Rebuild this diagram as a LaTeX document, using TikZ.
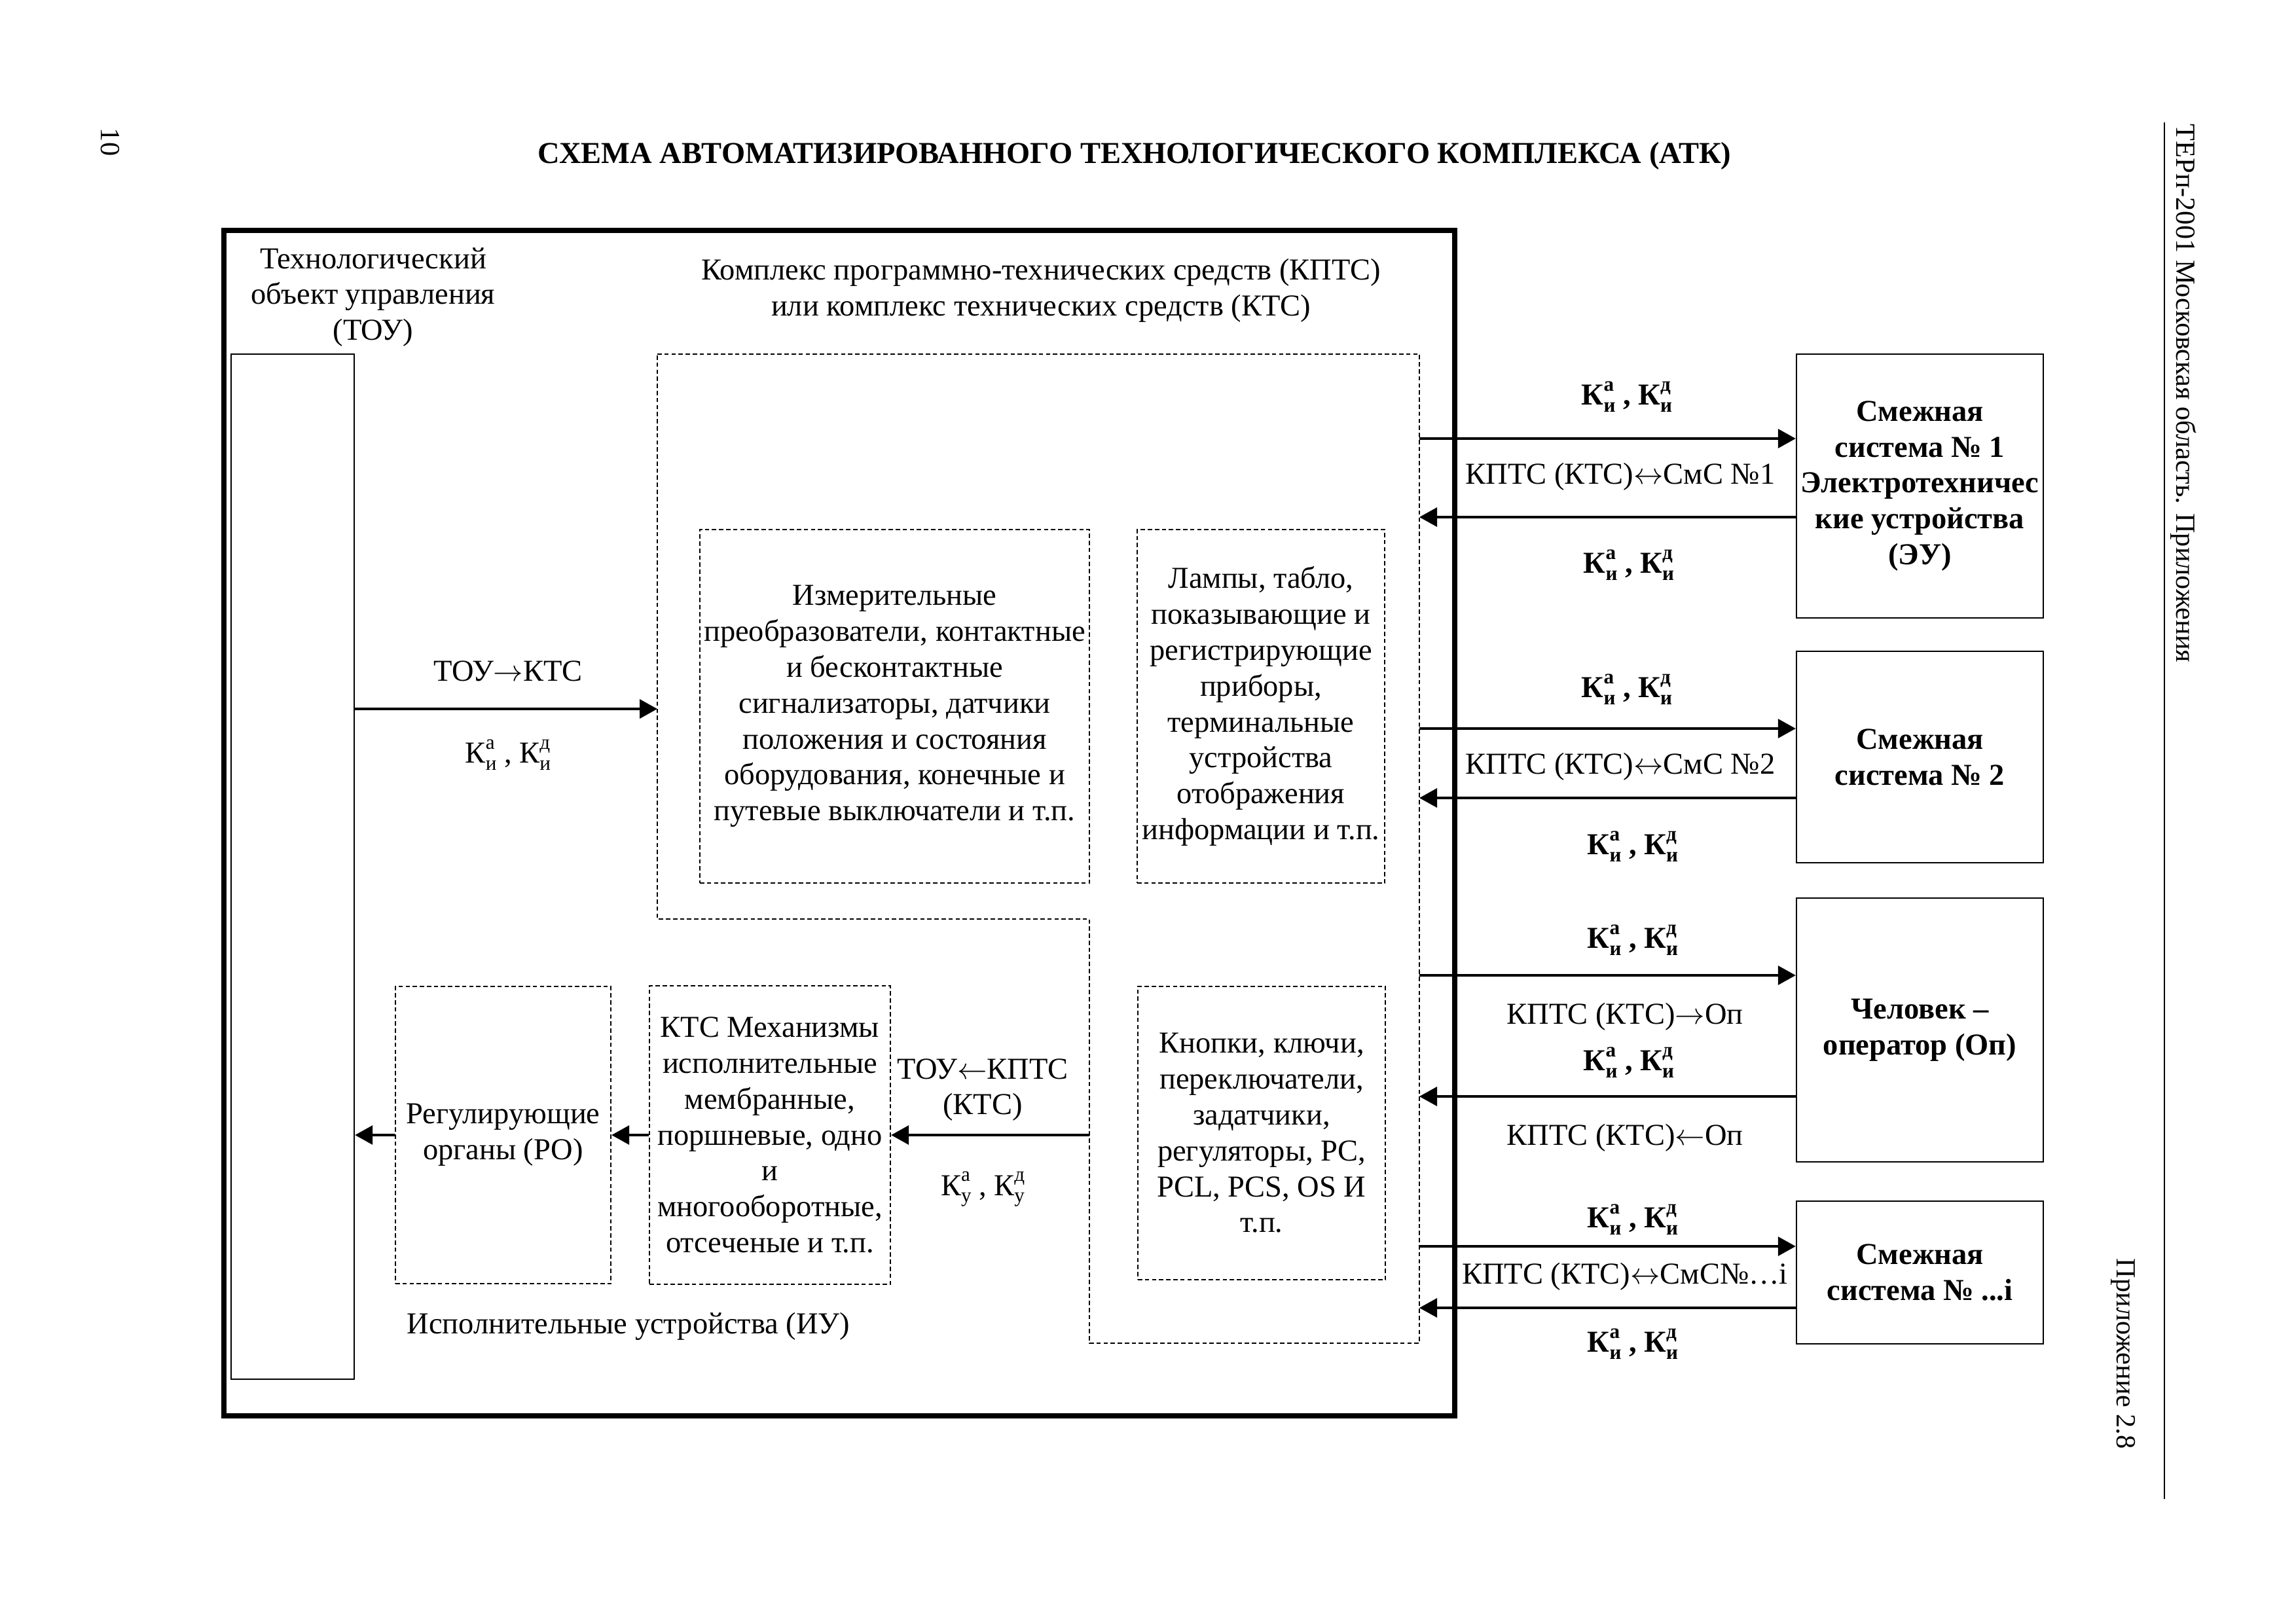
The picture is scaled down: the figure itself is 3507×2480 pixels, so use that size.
\documentclass[tikz,border=0pt]{standalone}
\usepackage{fontspec}
\setmainfont{Liberation Serif}
\usetikzlibrary{arrows.meta}

\newcommand{\pxu}{0.08469mm}
\newcommand{\smallidx}{\fontsize{7.5}{8}\selectfont}
\newcommand{\Kx}[2]{К\rlap{\raisebox{1.0ex}{\smallidx #1}}\raisebox{-0.5ex}{\smallidx #2}}

\tikzset{
  frame/.style={draw, line width=2pt},
  dline/.style={draw, dash pattern=on 1.6pt off 1pt, line width=0.55pt},
  dbox/.style={dline, align=center, inner sep=1pt},
  sbox/.style={draw, line width=0.6pt, align=center, inner xsep=0.5pt, font=\bfseries},
  wh/.style 2 args={minimum width=#1*\pxu, minimum height=#2*\pxu},
  arr/.style={line width=0.8pt, -{Triangle[length=6.5pt,width=7pt]}},
  lbl/.style={align=center, inner sep=0pt},
  side/.style={lbl, rotate=-90, font=\fontsize{10.2}{12}\selectfont},
}

\begin{document}
\fontsize{11.2}{13.2}\selectfont
\begin{tikzpicture}[x=0.08469mm, y=-0.08469mm]
    \useasboundingbox (0,0) rectangle (3507,2480);
    % page furniture
    \node[lbl, font=\bfseries] (title) at (1733,238) {СХЕМА АВТОМАТИЗИРОВАННОГО ТЕХНОЛОГИЧЕСКОГО КОМПЛЕКСА (АТК)};
    \node[side] (pagenum) at (168,217) {10};
    \node[side] (header) at (3335,601) {ТЕРп-2001 Московская область. Приложения};
    \node[side] (appx) at (3243,2068) {Приложение 2.8};
    \coordinate (rtop) at (3306,187);
    \coordinate (rbot) at (3306,2290);
    \draw[line width=0.6pt] (rtop) -- (rbot);

    % outer frame and the TOU column
    \draw[frame] (342,352) rectangle (2222,2163);
    \node[draw, line width=0.6pt, wh={188}{1566}] (tou) at (447,1324) {};
    \node[lbl] (toulbl) at (570,454) {Технологический\\объект управления\\(ТОУ)};

    % KPTS area
    \node[lbl] (kptslbl) at (1590,444) {Комплекс программно-технических средств (КПТС)\\или комплекс технических средств (КТС)};
    \draw[dline] (1004,541) -- (2168,541) -- (2168,2052) -- (1664,2052) -- (1664,1404) -- (1004,1404) -- cycle;
    \node[dbox, wh={595}{540}] (izm) at (1366.5,1079) {Измерительные\\преобразователи, контактные\\и бесконтактные\\сигнализаторы, датчики\\положения и состояния\\оборудования, конечные и\\путевые выключатели и т.п.};
    \node[dbox, wh={378}{540}] (lamp) at (1926,1079) {Лампы, табло,\\показывающие и\\регистрирующие\\приборы,\\терминальные\\устройства\\отображения\\информации и т.п.};
    \node[dbox, wh={378}{448}] (knop) at (1927,1731) {Кнопки, ключи,\\переключатели,\\задатчики,\\регуляторы, PC,\\PCL, PCS, OS И\\т.п.};

    % actuators
    \node[dbox, wh={368}{456}] (mech) at (1176,1734) {КТС Механизмы\\исполнительные\\мембранные,\\поршневые, одно\\и\\многооборотные,\\отсеченые и т.п.};
    \node[dbox, wh={329}{454}] (ro) at (768.5,1734) {Регулирующие\\органы (РО)};
    \node[lbl] (iulbl) at (960,2026) {Исполнительные устройства (ИУ)};

    % adjacent systems
    \node[sbox, wh={377}{403}] (sms1) at (2932.5,742.5) {Смежная\\система № 1\\Электротехничес\\кие устройства\\(ЭУ)};
    \node[sbox, wh={377}{323}] (sms2) at (2932.5,1156.5) {Смежная\\система № 2};
    \node[sbox, wh={377}{403}] (oper) at (2932.5,1573.5) {Человек –\\оператор (Оп)};
    \node[sbox, wh={377}{218}] (smsi) at (2932.5,1944) {Смежная\\система № ...i};

    % connectors on the left
    \coordinate (kin) at (1004,1083);
    \coordinate (kout) at (1664,1734);
    \draw[arr] (tou.east |- kin) -- (kin);
    \node[lbl] (l1) at (776,1025) {ТОУ$\rightarrow$КТС};
    \node[lbl] (l2) at (776,1153) {\Kx{а}{и} , \Kx{д}{и}};
    \draw[arr] (kout) -- (mech.east);
    \node[lbl] (l3) at (1501,1665) {ТОУ$\leftarrow$КПТС\\(КТС)};
    \node[lbl] (l4) at (1501,1817) {\Kx{а}{у} , \Kx{д}{у}};
    \draw[arr] (mech.west) -- (ro.east);
    \draw[arr] (ro.west) -- (tou.east |- ro.west);

    % connectors on the right
    \coordinate (o1) at (2168,670);
    \coordinate (i1) at (2168,790);
    \coordinate (o2) at (2168,1113);
    \coordinate (i2) at (2168,1219);
    \coordinate (o3) at (2168,1490);
    \coordinate (i3) at (2168,1675);
    \coordinate (o4) at (2168,1904);
    \coordinate (i4) at (2168,1998);
    \draw[arr] (o1) -- (sms1.west |- o1);
    \draw[arr] (sms1.west |- i1) -- (i1);
    \draw[arr] (o2) -- (sms2.west |- o2);
    \draw[arr] (sms2.west |- i2) -- (i2);
    \draw[arr] (o3) -- (oper.west |- o3);
    \draw[arr] (oper.west |- i3) -- (i3);
    \draw[arr] (o4) -- (smsi.west |- o4);
    \draw[arr] (smsi.west |- i4) -- (i4);

    \node[lbl, font=\bfseries] (r1a) at (2485,606) {\Kx{а}{и} , \Kx{д}{и}};
    \node[lbl] (r1b) at (2475,728) {КПТС (КТС)$\leftrightarrow$СмС №1};
    \node[lbl, font=\bfseries] (r1c) at (2488,863) {\Kx{а}{и} , \Kx{д}{и}};
    \node[lbl, font=\bfseries] (r2a) at (2485,1053) {\Kx{а}{и} , \Kx{д}{и}};
    \node[lbl] (r2b) at (2475,1171) {КПТС (КТС)$\leftrightarrow$СмС №2};
    \node[lbl, font=\bfseries] (r2c) at (2494,1293) {\Kx{а}{и} , \Kx{д}{и}};
    \node[lbl, font=\bfseries] (r3a) at (2494,1436) {\Kx{а}{и} , \Kx{д}{и}};
    \node[lbl] (r3b) at (2482,1553) {КПТС (КТС)$\rightarrow$Оп};
    \node[lbl, font=\bfseries] (r3c) at (2488,1623) {\Kx{а}{и} , \Kx{д}{и}};
    \node[lbl] (r3d) at (2482,1738) {КПТС (КТС)$\leftarrow$Оп};
    \node[lbl, font=\bfseries] (r4a) at (2494,1863) {\Kx{а}{и} , \Kx{д}{и}};
    \node[lbl] (r4b) at (2482,1950) {КПТС (КТС)$\leftrightarrow$СмС№…i};
    \node[lbl, font=\bfseries] (r4c) at (2494,2053) {\Kx{а}{и} , \Kx{д}{и}};
\end{tikzpicture}
\end{document}
